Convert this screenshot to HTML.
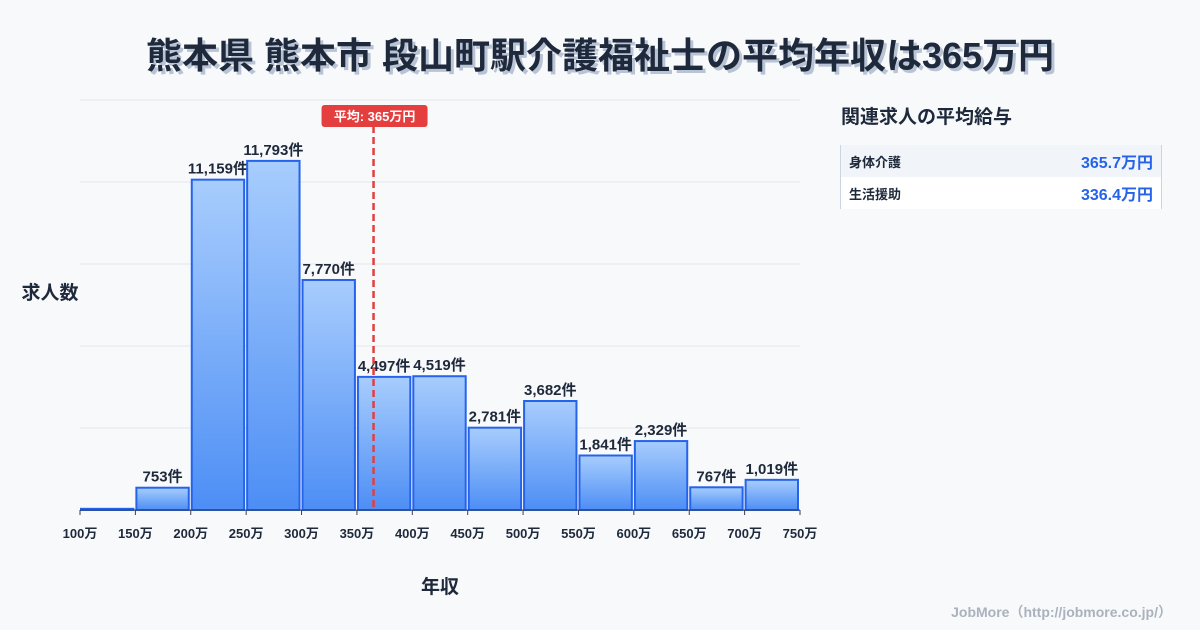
<!DOCTYPE html>
<html><head><meta charset="utf-8"><style>
body{margin:0;width:1200px;height:630px;background:#f8f9fb;font-family:"Liberation Sans","Noto Sans CJK JP",sans-serif;overflow:hidden;position:relative}
.title{position:absolute;left:0;width:1200px;top:27px;text-align:center;font-size:36px;font-weight:bold;color:#1e293b;text-shadow:3px 3px 0 #b8c4d6}
.side h3{position:absolute;left:841px;top:102px;margin:0;font-size:19px;font-weight:bold;color:#1e293b}
.tbl{position:absolute;left:840px;top:145px;width:320px;border-left:1px solid #cbd5e1;border-right:1px solid #cbd5e1}
.row{height:32px;display:flex;justify-content:space-between;align-items:center;padding:0 8px;font-size:13px;font-weight:bold;color:#1e293b}
.row span:last-child{color:#2563eb;font-size:16px}
.foot{position:absolute;right:28px;top:602px;font-size:14px;font-weight:bold;color:#aab2bd}
</style></head><body>
<div class="title">熊本県 熊本市 段山町駅介護福祉士の平均年収は365万円</div>
<svg id="chart" width="1200" height="630" style="position:absolute;left:0;top:0"></svg>
<div class="side"><h3>関連求人の平均給与</h3>
<div class="tbl">
<div class="row" style="background:#f1f4f8"><span>身体介護</span><span>365.7万円</span></div>
<div class="row" style="background:#fff"><span>生活援助</span><span>336.4万円</span></div>
</div></div>
<div class="foot">JobMore（http://jobmore.co.jp/）</div>
<script>
const binStarts=[100,150,200,250,300,350,400,450,500,550,600,650,700];
const counts=[40,753,11159,11793,7770,4497,4519,2781,3682,1841,2329,767,1019];
const tickLabels=[100,150,200,250,300,350,400,450,500,550,600,650,700,750];
const avgSalary=365;
const yMax=13850, gridCount=5;
const NS="http://www.w3.org/2000/svg",svg=document.getElementById('chart');
const x0=80,x1=800,y0=510,y1=100;
const xs=v=>x0+(v-100)/(750-100)*(x1-x0);
const ys=v=>y0-v/yMax*(y0-y1);
function mk(t,a,p){const e=document.createElementNS(NS,t);for(const k in a)e.setAttribute(k,a[k]);(p||svg).appendChild(e);return e;}
const defs=mk('defs',{});const g=mk('linearGradient',{id:'bg',x1:0,y1:0,x2:0,y2:1},defs);
mk('stop',{offset:0,'stop-color':'#a8cdfd'},g);mk('stop',{offset:1,'stop-color':'#4d8ef5'},g);
for(let i=0;i<=gridCount;i++){const y=ys(yMax*i/gridCount);
const l=mk('line',{x1:x0,x2:x1,y1:y,y2:y,stroke:'#e3e7ee','stroke-width':1});

}
binStarts.forEach((s,i)=>{const xa=xs(s)+1,xb=xs(s+50)-2,y=ys(counts[i]);
const r=mk('rect',{x:xa,y:y,width:xb-xa,height:Math.max(y0-y,1),fill:'url(#bg)',stroke:'#2563eb','stroke-width':2});


if(i>0){const t=mk('text',{x:(xa+xb)/2,y:y-6,'text-anchor':'middle','font-size':15,'font-weight':'bold',fill:'#1e293b'});
t.textContent=counts[i].toLocaleString('en-US')+'件';

}});
mk('line',{x1:x0,x2:x1,y1:y0,y2:y0,stroke:'#334155','stroke-width':1});
tickLabels.forEach(v=>{const x=xs(v);mk('line',{x1:x,x2:x,y1:y0,y2:y0+5,stroke:'#334155'});
const t=mk('text',{x:x,y:y0+28,'text-anchor':'middle','font-size':13,'font-weight':'bold',fill:'#1e293b'});t.textContent=v+'万';

});
const ax=xs(avgSalary);
const al=mk('line',{x1:ax,x2:ax,y1:126,y2:y0,stroke:'#e53e3e','stroke-width':2.5,'stroke-dasharray':'7,4'});


const bx=mk('rect',{x:ax-52,y:105,width:106,height:22,rx:3,fill:'#e53e3e'});


const bt=mk('text',{x:ax+1,y:121,'text-anchor':'middle','font-size':13,'font-weight':'bold',fill:'#fff'});bt.textContent='平均: '+avgSalary+'万円';


const yt=mk('text',{x:50,y:299,'text-anchor':'middle','font-size':19,'font-weight':'bold',fill:'#1e293b'});yt.textContent='求人数';


const xt=mk('text',{x:440,y:593,'text-anchor':'middle','font-size':19,'font-weight':'bold',fill:'#1e293b'});xt.textContent='年収';


</script>
</body></html>
